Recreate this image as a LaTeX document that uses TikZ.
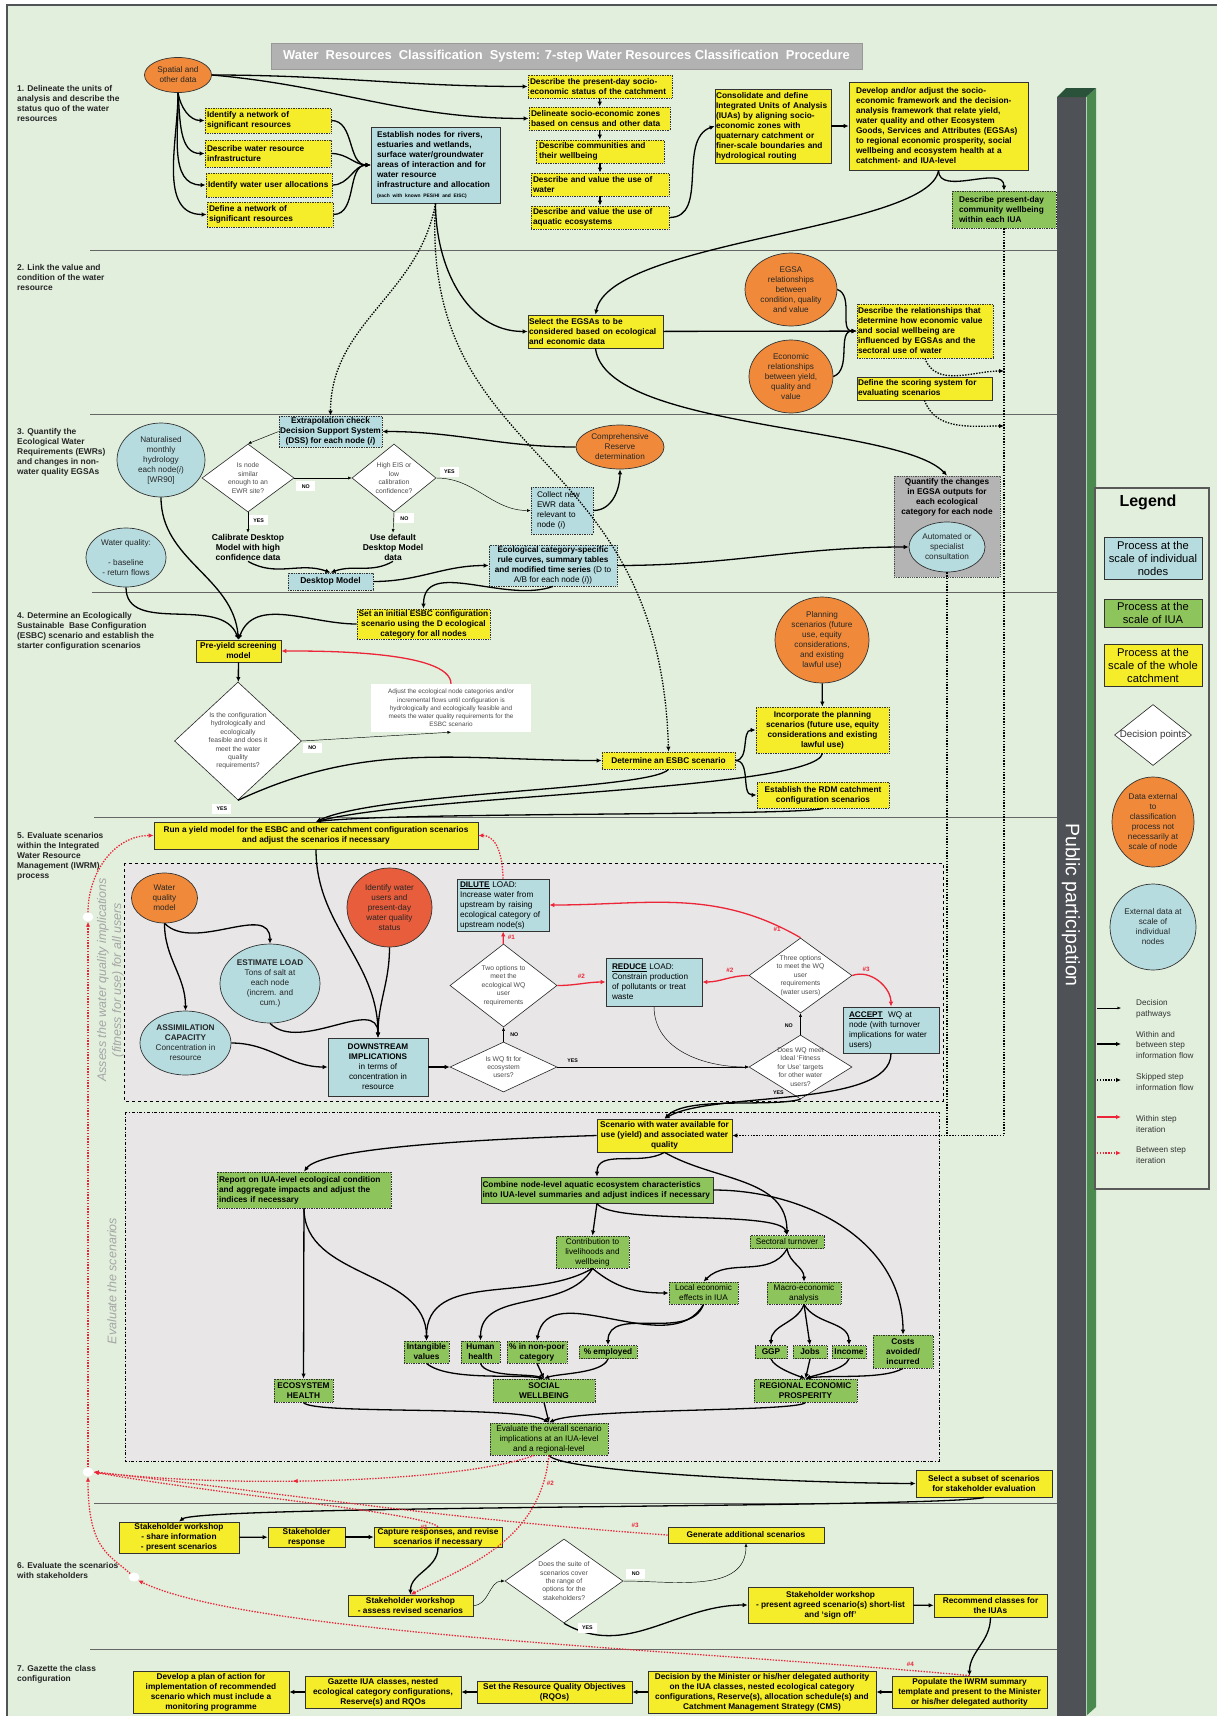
\documentclass[tikz,border=0pt]{standalone}
\usepackage{fontspec}
\setmainfont{Liberation Sans}
\usetikzlibrary{shapes.geometric,arrows.meta,positioning,decorations.markings}

\definecolor{bgc}{RGB}{226,239,221}
\definecolor{yelc}{RGB}{245,236,42}
\definecolor{bluec}{RGB}{182,220,224}
\definecolor{grnc}{RGB}{142,196,92}
\definecolor{orac}{RGB}{240,138,58}
\definecolor{redorc}{RGB}{232,93,60}
\definecolor{redc}{RGB}{236,38,56}
\definecolor{boxgray}{RGB}{232,230,230}
\definecolor{titlegray}{RGB}{178,178,178}
\definecolor{quantgray}{RGB}{180,180,180}
\definecolor{bargray}{RGB}{78,81,85}
\definecolor{bargreen}{RGB}{74,138,78}
\definecolor{bartop}{RGB}{42,82,58}
\definecolor{framec}{RGB}{80,84,86}
\definecolor{rottext}{RGB}{165,165,165}

\newcommand{\fbx}{\fontsize{8.3}{10}\selectfont\bfseries}
\newcommand{\frg}{\fontsize{8.2}{10}\selectfont}
\newcommand{\fcal}{\fontsize{8.5}{10}\selectfont\bfseries}
\newcommand{\fdm}{\fontsize{6.8}{8.4}\selectfont}
\newcommand{\fadj}{\fontsize{6.4}{8.2}\selectfont}
\newcommand{\fst}{\fontsize{8.4}{10}\selectfont\bfseries}
\newcommand{\fyn}{\fontsize{5.3}{6}\selectfont\bfseries}
\newcommand{\fhs}{\fontsize{6.3}{7}\selectfont\bfseries}
\newcommand{\flg}{\fontsize{11.2}{13}\selectfont}
\newcommand{\flk}{\fontsize{8.2}{10.5}\selectfont}

\begin{document}
\begin{tikzpicture}[x=1pt, y=-1pt,
    wh/.style 2 args={minimum width=#1, minimum height=#2},
    tw/.style={text width=#1pt, inner xsep=0pt, align=left},
    proc/.style={draw=black!80, line width=0.7pt, inner xsep=2pt, inner ysep=1pt, align=center, font=\fbx},
    ybox/.style={proc, fill=yelc},
    bbox/.style={proc, fill=bluec},
    gbox/.style={proc, fill=grnc},
    dotbd/.style={densely dotted, line width=0.8pt},
    extd/.style={ellipse, draw=black!80, line width=0.7pt, fill=orac, inner sep=0pt, align=center, font=\frg, text=black!85},
    bel/.style={extd, fill=bluec},
    dmd/.style={diamond, draw=black!85, line width=0.6pt, fill=white, inner sep=0pt},
    dtx/.style={font=\fdm, align=center, text=black!70},
    yn/.style={fill=white, font=\fyn, inner sep=1pt, minimum width=19, minimum height=10},
    hsh/.style={font=\fhs, text=redc, inner sep=1pt},
    jn/.style={ellipse, fill=white, inner sep=0pt, minimum width=11, minimum height=9},
    steplbl/.style={anchor=north west, inner sep=0pt, align=left, font=\fst, text=black!85},
    lgtx/.style={anchor=west, inner sep=0pt, align=left, font=\flk, text=black!80},
    sepline/.style={draw=black!60, line width=0.7pt},
    flow/.style={-{Latex[length=5pt,width=4.5pt]}, line width=1.3pt},
    thinarr/.style={-{Latex[length=3.5pt,width=3pt]}, line width=0.45pt},
    skipf/.style={flow, dash pattern=on 1.4pt off 1.4pt},
    iter/.style={flow, draw=redc},
    biter/.style={iter, dash pattern=on 1.4pt off 1.4pt},
    midtip/.style={postaction={decorate, decoration={markings, mark=at position #1 with {\arrow{Latex[length=5pt,width=4.5pt]}}}}},
  ]
\useasboundingbox (0,0) rectangle (1217,1716);

% background and frame
\fill[bgc] (7,5) rectangle (1217,1716);
\draw[framec, line width=1.4pt] (7,1716) -- (7,5) -- (1217,5);

% step separators
\draw[sepline] (90,250) -- (1057,250);
\draw[sepline] (90,414) -- (1057,414);
\draw[sepline] (92,592) -- (1057,592);
\draw[sepline] (94,817) -- (1057,817);
\draw[sepline] (94,1503) -- (1057,1503);
\draw[sepline] (90,1649) -- (1057,1649);

% containers of step 5
\draw[dashed, fill=boxgray, line width=0.8pt] (124,863) rectangle (943,1101);
\draw[dash dot, fill=boxgray, line width=0.8pt] (125,1112) rectangle (939,1461);
\node[rotate=90, align=center, font=\fontsize{12.5}{15}\selectfont\itshape, text=rottext] at (110.5,980) (asstxt) {Assess the water quality implications\\(fitness for use) for all users};
\node[rotate=90, font=\fontsize{12.5}{15}\selectfont\itshape, text=rottext] at (112,1281) (evtxt) {Evaluate the scenarios};

% public participation bar
\fill[bargray] (1057,97) rectangle (1086,1716);
\fill[bargreen] (1086,97) -- (1096,88) -- (1096,1707) -- (1086,1716) -- cycle;
\fill[bartop] (1057,97) -- (1066,88) -- (1096,88) -- (1086,97) -- cycle;
\draw[bargreen!40!white, line width=0.8pt] (1086.5,97) -- (1086.5,1716);
\node[rotate=-90, text=white, font=\fontsize{19.5}{22}\selectfont] at (1071,905) (pubp) {Public participation};

% title and step labels
\node[fill=titlegray, draw=black!40, line width=0.8pt, text=white, font=\fontsize{12.9}{14}\selectfont\bfseries, wh={591}{26}] at (566.5,56) (title) {Water\ \ Resources\ \ Classification\ \ System: 7-step Water Resources Classification\ \ Procedure};
\node[steplbl] at (17,85) (st1) {1. Delineate the units of\\analysis and describe the\\status quo of the water\\resources};
\node[steplbl] at (17,264) (st2) {2. Link the value and\\condition of the water\\resource};
\node[steplbl] at (17,428) (st3) {3. Quantify the\\Ecological Water\\Requirements (EWRs)\\and changes in non-\\water quality EGSAs};
\node[steplbl] at (17,612) (st4) {4. Determine an Ecologically\\Sustainable\ \ Base Configuration\\(ESBC) scenario and establish the\\starter configuration scenarios};
\node[steplbl] at (17,832) (st5) {5. Evaluate scenarios\\within the Integrated\\Water Resource\\Management (IWRM)\\process};
\node[steplbl] at (17,1562) (st6) {6. Evaluate the scenarios\\with stakeholders};
\node[steplbl] at (17,1665) (st7) {7. Gazette the class\\configuration};

% step 1
\node[extd, wh={67}{35}] at (178,75) (spat) {Spatial and\\other data};
\node[ybox, dotbd, wh={126}{25}, tw=122] at (268,120.5) (idnet) {Identify a network of\\significant resources};
\node[ybox, dotbd, wh={126}{27}, tw=122] at (268,153.5) (infra) {Describe water resource\\infrastructure};
\node[ybox, dotbd, wh={126}{24}, tw=122] at (269,185) (alloc) {Identify water user allocations};
\node[ybox, dotbd, wh={126}{25}, tw=122] at (270,214.5) (defnet) {Define a network of\\significant resources};
\node[bbox, wh={129}{76}, tw=117] at (435.5,165) (estn) {Establish nodes for rivers,\\estuaries and wetlands,\\surface water/groundwater\\areas of interaction and for\\water resource\\infrastructure and allocation\\\mbox{\fontsize{4.9}{6}\selectfont (each with known PES/HI and EISC)}};
\node[ybox, dotbd, wh={144}{23}, tw=140] at (600,86.5) (socst) {Describe the present-day socio-\\economic status of the catchment};
\node[ybox, dotbd, wh={141}{23}, tw=137] at (599.5,118.5) (zones) {Delineate socio-economic zones\\based on census and other data};
\node[ybox, dotbd, wh={128}{23}, tw=122] at (600,151.5) (commw) {Describe communities and\\their wellbeing};
\node[ybox, dotbd, wh={138}{23}, tw=134] at (600,184.5) (usew) {Describe and value the use of\\water};
\node[ybox, dotbd, wh={138}{23}, tw=134] at (600,217.5) (usea) {Describe and value the use of\\aquatic ecosystems};
\node[ybox, wh={116}{74}, tw=114] at (773,126) (iua) {Consolidate and define\\Integrated Units of Analysis\\(IUAs) by aligning socio-\\economic zones with\\quaternary catchment or\\finer-scale boundaries and\\hydrological routing};
\node[ybox, wh={179}{88}, tw=165] at (938.5,126) (dev) {Develop and/or adjust the socio-\\economic framework and the decision-\\analysis framework that relate yield,\\water quality and other Ecosystem\\Goods, Services and Attributes (EGSAs)\\to regional economic prosperity, social\\wellbeing and ecosystem health at a\\catchment- and IUA-level};
\node[gbox, dotbd, wh={104}{37}, tw=90] at (1004,209.5) (comm) {Describe present-day\\community wellbeing\\within each IUA};

% step 2
\node[ybox, wh={135}{33}, tw=133] at (595.5,331.5) (selg) {Select the EGSAs to be\\considered based on ecological\\and economic data};
\node[extd, wh={92}{73}] at (791,289.5) (egrel) {EGSA\\relationships\\between\\condition, quality\\and value};
\node[extd, wh={84}{73}] at (791,376.5) (ecrel) {Economic\\relationships\\between yield,\\quality and\\value};
\node[ybox, dotbd, wh={136}{54}, tw=134] at (925,331) (descr) {Describe the relationships that\\determine how economic value\\and social wellbeing are\\influenced by EGSAs and the\\sectoral use of water};
\node[ybox, wh={135}{23}, tw=133] at (924.5,388.5) (score) {Define the scoring system for\\evaluating scenarios};
\coordinate (pjA) at (1004,371);
\coordinate (pjB) at (1004,426);

% step 3
\node[bbox, dotbd, wh={103}{31}, inner xsep=1pt, inner ysep=0pt] at (330.5,431.5) (extra) {Extrapolation check\\Decision Support System\\(DSS) for each node (\textit{i})};
\node[bel, wh={88}{74}] at (161,460) (natur) {Naturalised\\monthly\\hydrology\\each node(\textit{i})\\{[WR90]}};
\node[dmd, wh={92}{68}, label={[dtx]center:{Is node\\similar\\enough to an\\EWR site?}}] at (248,478) (dsim) {};
\node[dmd, wh={84}{68}, label={[dtx]center:{High EIS or\\low\\calibration\\confidence?}}] at (394,478) (deis) {};
\node[font=\fcal, align=center, inner sep=1pt] at (248,547) (calib) {Calibrate Desktop\\Model with high\\confidence data};
\node[font=\fcal, align=center, inner sep=1pt] at (393,547) (usedf) {Use default\\Desktop Model\\data};
\node[bbox, dotbd, wh={62}{47}, tw=50, font=\frg] at (562,510.5) (collect) {Collect new\\EWR data\\relevant to\\node (\textit{i})};
\node[extd, wh={88}{44}] at (620,447) (cres) {Comprehensive\\Reserve\\determination};
\node[bbox, dotbd, wh={85}{17}, font=\fcal] at (330.5,581.5) (desk) {Desktop Model};
\node[bbox, dotbd, wh={128}{41}, font=\frg, inner ysep=0pt] at (553,565.5) (ecocat) {\textbf{Ecological category-specific}\\\textbf{rule curves, summary tables}\\\textbf{and modified time series} (D to\\A/B for each node (\textit{i}))};
\node[fill=quantgray, draw=black!70, densely dotted, line width=0.8pt, wh={106}{101}, label={[font=\fbx, align=center, anchor=north, inner sep=0pt, yshift=-3pt]north:{Quantify the changes\\in EGSA outputs for\\each ecological\\category for each node}}] at (947,526.5) (quant) {};
\node[bel, wh={76}{50}] at (947,547) (autom) {Automated or\\specialist\\consultation};
\node[bel, wh={80}{59}] at (126,557.5) (wqual) {Water quality:\\[10pt]- baseline\\- return flows};

% step 4
\node[ybox, dotbd, wh={133}{30}, inner ysep=0pt, inner xsep=1pt] at (423.5,624) (inesbc) {Set an initial ESBC configuration\\scenario using the D ecological\\category for all nodes};
\node[ybox, wh={85}{22}, inner ysep=0pt] at (238.5,651) (preyld) {Pre-yield screening\\model};
\node[dmd, wh={127}{118}, label={[dtx]center:{Is the configuration\\hydrologically and\\ecologically\\feasible and does it\\meet the water\\quality\\requirements?}}] at (238,741) (dconf) {};
\node[fill=white, wh={160}{48}, align=center, font=\fadj, text=black!70, inner sep=1pt] at (451,708) (adjust) {Adjust the ecological node categories and/or\\incremental flows until configuration is\\hydrologically and ecologically feasible and\\meets the water quality requirements for the\\ESBC scenario};
\node[ybox, dotbd, wh={133}{17}] at (668.5,760.5) (detesbc) {Determine an ESBC scenario};
\node[extd, wh={94}{86}] at (822,640) (plansc) {Planning\\scenarios (future\\use, equity\\considerations,\\and existing\\lawful use)};
\node[ybox, dotbd, wh={133}{46}] at (822.5,730) (incorp) {Incorporate the planning\\scenarios (future use, equity\\considerations and existing\\lawful use)};
\node[ybox, dotbd, wh={132}{26}] at (823,795) (rdm) {Establish the RDM catchment\\configuration scenarios};

% step 5: water quality
\node[ybox, wh={324}{27}] at (316,835.5) (runyld) {Run a yield model for the ESBC and other catchment configuration scenarios\\and adjust the scenarios if necessary};
\node[extd, wh={66}{50}] at (164.5,898) (wqmod) {Water\\quality\\model};
\node[extd, fill=redorc, wh={85}{79}] at (389.5,907.5) (idusr) {Identify water\\users and\\present-day\\water quality\\status};
\node[bel, wh={100}{79}] at (270,983.5) (estld) {\textbf{ESTIMATE LOAD}\\Tons of salt at\\each node\\(increm. and\\cum.)};
\node[bel, wh={91}{64}] at (185.5,1043) (assim) {\textbf{ASSIMILATION}\\\textbf{CAPACITY}\\Concentration in\\resource};
\node[bbox, wh={100}{58}, font=\frg] at (378,1067) (dstrm) {\textbf{DOWNSTREAM}\\\textbf{IMPLICATIONS}\\in terms of\\concentration in\\resource};
\node[dmd, wh={107}{50}, label={[dtx]center:{Is WQ fit for\\ecosystem\\users?}}] at (503.5,1067) (dfit) {};
\node[dmd, wh={107}{83}, label={[dtx]center:{Two options to\\meet the\\ecological WQ\\user\\requirements}}] at (503.5,985.5) (dtwo) {};
\node[bbox, wh={92}{52}, tw=86, font=\frg] at (503,905) (dilute) {\underline{\textbf{DILUTE}} LOAD:\\Increase water from\\upstream by raising\\ecological category of\\upstream node(s)};
\node[bbox, wh={96}{48}, tw=84, font=\frg] at (654,982) (reduce) {\underline{\textbf{REDUCE}} LOAD:\\Constrain production\\of pollutants or treat\\waste};
\node[dmd, wh={103}{75}, label={[dtx]center:{Three options\\to meet the WQ\\user\\requirements\\(water users)}}] at (800.5,975.5) (dthree) {};
\node[dmd, wh={103}{64}, label={[dtx]center:{Does WQ meet\\Ideal `Fitness\\for Use' targets\\for other water\\users?}}] at (800.5,1067) (dmeet) {};
\node[bbox, wh={96}{46}, tw=84, font=\frg] at (891,1030) (accept) {\underline{\textbf{ACCEPT}}\ \ WQ at\\node (with turnover\\implications for water\\users)};

% step 5: evaluation
\node[ybox, wh={135}{33}] at (664.5,1135.5) (scenw) {Scenario with water available for\\use (yield) and associated water\\quality};
\node[gbox, dotbd, wh={174}{36}, tw=170] at (304,1190) (rpiua) {Report on IUA-level ecological condition\\and aggregate impacts and adjust the\\indices if necessary};
\node[gbox, wh={232}{26}, tw=229] at (597,1190) (combn) {Combine node-level aquatic ecosystem characteristics\\into IUA-level summaries and adjust indices if necessary};
\node[gbox, dotbd, wh={73}{32}, font=\frg] at (592.5,1252) (contr) {Contribution to\\livelihoods and\\wellbeing};
\node[gbox, dotbd, wh={74}{13}, font=\frg, inner ysep=0pt] at (787,1242) (sectr) {Sectoral turnover};
\node[gbox, dotbd, wh={69}{22}, font=\frg] at (703.5,1293) (loceco) {Local economic\\effects in IUA};
\node[gbox, dotbd, wh={74}{22}, font=\frg] at (804,1293) (macro) {Macro-economic\\analysis};
\node[gbox, dotbd, wh={45}{22}, inner xsep=1pt] at (426.5,1352) (intang) {Intangible\\values};
\node[gbox, dotbd, wh={39}{22}, inner xsep=1pt] at (480.5,1352) (humh) {Human\\health};
\node[gbox, dotbd, wh={60}{22}, inner xsep=1pt] at (537,1352) (npoor) {\% in non-poor\\category};
\node[gbox, dotbd, wh={58}{13}, inner ysep=0pt] at (608,1352) (emplo) {\% employed};
\node[gbox, dotbd, wh={32}{13}, inner ysep=0pt] at (771,1352) (ggp) {GGP};
\node[gbox, dotbd, wh={34}{13}, inner ysep=0pt] at (810,1352) (jobs) {Jobs};
\node[gbox, dotbd, wh={34}{13}, inner ysep=0pt] at (849,1352) (incom) {Income};
\node[gbox, dotbd, wh={60}{33}] at (903,1351.5) (costs) {Costs\\avoided/\\incurred};
\node[gbox, dotbd, wh={59}{23}] at (303.5,1390.5) (ecoh) {ECOSYSTEM\\HEALTH};
\node[gbox, dotbd, wh={102}{23}] at (544,1390.5) (socw) {SOCIAL\\WELLBEING};
\node[gbox, dotbd, wh={103}{23}] at (805.5,1390.5) (regp) {REGIONAL ECONOMIC\\PROSPERITY};
\node[gbox, dotbd, wh={118}{32}, font=\frg] at (549,1439) (evall) {Evaluate the overall scenario\\implications at an IUA-level\\and a regional-level};
\node[ybox, wh={136}{27}] at (984,1483.5) (subset) {Select a subset of scenarios\\for stakeholder evaluation};

% step 6
\node[ybox, wh={120}{31}] at (179,1537.5) (wshare) {Stakeholder workshop\\- share information\\- present scenarios};
\node[ybox, wh={77}{20}, inner ysep=0pt] at (306.5,1537) (sresp) {Stakeholder\\response};
\node[ybox, wh={128}{20}, inner ysep=0pt] at (438,1537) (captr) {Capture responses, and revise\\scenarios if necessary};
\node[ybox, wh={156}{16}] at (746,1535) (genad) {Generate additional scenarios};
\node[ybox, wh={125}{21}, inner ysep=0pt] at (410.5,1605.5) (wassess) {Stakeholder workshop\\- assess revised scenarios};
\node[dmd, wh={118}{84}, label={[dtx]center:{Does the suite of\\scenarios cover\\the range of\\options for the\\stakeholders?}}] at (564,1581) (dsuite) {};
\node[ybox, wh={165}{36}] at (830.5,1605) (wagree) {Stakeholder workshop\\- present agreed scenario(s) short-list\\and `sign off'};
\node[ybox, wh={113}{23}] at (990.5,1605.5) (recom) {Recommend classes for\\the IUAs};

% step 7
\node[ybox, wh={155}{32}] at (969.5,1692) (popul) {Populate the IWRM summary\\template and present to the Minister\\or his/her delegated authority};
\node[ybox, wh={228}{42}] at (762,1692) (decis) {Decision by the Minister or his/her delegated authority\\on the IUA classes, nested ecological category\\configurations, Reserve(s), allocation schedule(s) and\\Catchment Management Strategy (CMS)};
\node[ybox, wh={155}{22}] at (554.5,1692) (rqos) {Set the Resource Quality Objectives\\(RQOs)};
\node[ybox, wh={156}{32}] at (383,1692) (gazet) {Gazette IUA classes, nested\\ecological category configurations,\\Reserve(s) and RQOs};
\node[ybox, wh={156}{42}] at (211,1692) (actpl) {Develop a plan of action for\\implementation of recommended\\scenario which must include a\\monitoring programme};

% junctions of the iteration loops
\node[jn] at (88,917) (jA) {};
\node[jn] at (88,1472) (jB) {};
\node[jn] at (134,1577) (jC) {};

% connectors
\path
  (spat.south) edge[flow, out=-80, in=180] (idnet.west)
  (spat.south) edge[flow, out=-85, in=180] (infra.west)
  (spat.south) edge[flow, out=-88, in=180] (alloc.west)
  (spat.south) edge[flow, out=-90, in=180] (defnet.west)
  (spat.east) edge[flow, out=0, in=180] (socst.west)
  (spat.east) edge[flow, out=-5, in=180] (zones.west)
  (idnet.east) edge[flow, out=0, in=180] (estn.west)
  (infra.east) edge[flow, out=0, in=180] (estn.west)
  (alloc.east) edge[flow, out=0, in=180] (estn.west)
  (defnet.east) edge[flow, out=0, in=180] (estn.west)
  (socst) edge[flow] (zones)
  (zones) edge[flow] (commw)
  (commw) edge[flow] (usew)
  (usew) edge[flow] (usea)
  (usea.east) edge[flow, out=0, in=-160] (iua.west)
  (iua) edge[flow] (dev)
  (dev.south) edge[flow, out=-90, in=90] (comm.north)
  (estn.south) edge[flow, out=-90, in=180] (selg.west)
  (estn.south) edge[skipf, out=-100, in=90] (extra.north)
  (selg) edge[flow] (descr)
  (egrel.east) edge[flow, out=-20, in=180] (descr.west)
  (ecrel.east) edge[flow, out=20, in=180] (descr.west)
  (descr.south) edge[skipf, out=-70, in=180] (pjA)
  (score.south) edge[skipf, out=-70, in=180] (pjB)
  (cres.west) edge[flow, out=180, in=0] (extra.east)
  (extra.west) edge[thinarr] (dsim.north)
  (dsim.east) edge[thinarr] node[yn, pos=.2, below=3pt] {NO} (deis.west)
  (dsim.south) edge[thinarr] node[yn, pos=.4, right=1pt] {YES} (calib.north)
  (deis.south) edge[thinarr] node[yn, pos=.3, right=1pt] {NO} (usedf.north)
  (deis.east) edge[thinarr, out=0, in=180] node[yn, pos=.12, above=2pt] {YES} (collect.west)
  (collect.east) edge[flow, out=0, in=-90] (cres.south)
  (calib.south) edge[flow, out=-30, in=160] (desk.north)
  (usedf.south) edge[flow, out=-150, in=20] (desk.north)
  (desk.east) edge[flow, out=0, in=180] (ecocat.west)
  (ecocat.east) edge[flow, out=0, in=180] (autom.west)
  (natur.south) edge[flow, out=-90, in=95] (preyld.north)
  (wqual.south) edge[flow, out=-90, in=110] (preyld.north)
  (ecocat.south) edge[flow, out=-160, in=90] (inesbc.north)
  (inesbc.west) edge[flow, out=180, in=70] (preyld.north)
  (preyld) edge[flow] (dconf)
  (dconf.east) edge[thinarr] node[yn, pos=.07, below=2pt] {NO} (adjust.south)
  (adjust.north) edge[iter, out=90, in=0, looseness=.5] (preyld.east)
  (dconf.south) edge[flow, out=25, in=180] node[yn, pos=0, below left=3pt and 6pt] {YES} (detesbc.west)
  (detesbc.east) edge[flow, out=0, in=180] (incorp.west)
  (detesbc.east) edge[flow, out=0, in=180] (rdm.west)
  (plansc) edge[flow] (incorp)
  (runyld.south) edge[flow, out=-90, in=90] (dstrm.north)
  (dilute.north) edge[biter, out=90, in=0] (runyld.east)
  (wqmod.south) edge[flow, out=-90, in=90] (assim.north)
  (wqmod.south) edge[flow, out=-45, in=90] (estld.north)
  (estld.south) edge[flow, out=-45, in=90] (dstrm.north)
  (idusr.south) edge[flow, out=-90, in=90] (dstrm.north)
  (assim.east) edge[flow, out=0, in=180] (dstrm.west)
  (dstrm) edge[flow] (dfit)
  (dfit) edge[thinarr] node[yn, fill=none, pos=.5, right=1pt] {NO} (dtwo)
  (dtwo) edge[iter] node[hsh, pos=.5, right=3pt] {\#1} (dilute)
  (dtwo.east) edge[iter, out=0, in=180] node[hsh, pos=.5, above=4pt] {\#2} (reduce.west)
  (dfit) edge[thinarr] node[yn, fill=none, pos=.08, above=1pt] {YES} (dmeet)
  (dmeet) edge[thinarr] node[yn, fill=none, pos=.4, left=2pt] {NO} (dthree)
  (dthree.west) edge[iter, out=180, in=0] node[hsh, pos=.4, above=4pt] {\#2} (reduce.east)
  (dthree.north) edge[iter, out=150, in=0] node[hsh, pos=.06, left=3pt] {\#1} (dilute.east)
  (dthree.east) edge[iter, out=20, in=90] node[hsh, pos=.25, above=2pt] {\#3} (accept.north)
  (reduce.south) edge[thinarr, out=-90, in=180] (dmeet.west)
  (dmeet.south) edge[flow, out=-165, in=45, looseness=.6] node[yn, fill=none, pos=0, above left=1pt and 12pt] {YES} (scenw.north)
  (accept.south) edge[flow, out=-90, in=30, looseness=.6] (scenw.north)
  (scenw.south) edge[flow, out=-150, in=90] (combn.north)
  (scenw.south) edge[flow, out=-30, in=90] (sectr.north)
  (rpiua) edge[flow] (ecoh)
  (rpiua.south) edge[flow, out=-90, in=90] (intang.north)
  (combn.south) edge[flow] (contr.north)
  (combn.east) edge[flow, out=0, in=90] (costs.north)
  (contr.south) edge[flow, out=-150, in=90] (intang.north)
  (contr.south) edge[flow, out=-120, in=90] (humh.north)
  (contr.south) edge[flow, out=-40, in=180] (loceco.west)
  (sectr.south) edge[flow, out=-120, in=45] (loceco.north)
  (sectr.south) edge[flow, out=-80, in=90] (macro.north)
  (loceco.south) edge[flow, out=-120, in=80] (npoor.north)
  (loceco.south) edge[flow, out=-110, in=90] (emplo.north)
  (macro.south) edge[flow, out=-110, in=90] (ggp.north)
  (macro.south) edge[flow] (jobs.north)
  (macro.south) edge[flow, out=-60, in=90] (incom.north)
  (intang.south) edge[flow, out=-40, in=170, looseness=.6] (socw.north)
  (humh.south) edge[flow, out=-70, in=160, looseness=.6] (socw.north)
  (npoor.south) edge[flow] (socw.north)
  (emplo.south) edge[flow, out=-110, in=20, looseness=.6] (socw.north)
  (ggp.south) edge[flow, out=-70, in=160, looseness=.6] (regp.north)
  (jobs.south) edge[flow] (regp.north)
  (incom.south) edge[flow, out=-110, in=20, looseness=.6] (regp.north)
  (costs.south) edge[flow, out=-150, in=10, looseness=.6] (regp.north)
  (socw.south) edge[flow] (evall.north)
  (wshare) edge[flow] (sresp)
  (sresp) edge[flow] (captr)
  (captr.south) edge[flow, out=-90, in=90] (wassess.north)
  (wassess.east) edge[thinarr, out=0, in=180] (dsuite.west)
  (dsuite.east) edge[thinarr, out=0, in=-90] node[yn, pos=.08, above=2pt] {NO} (genad.south)
  (dsuite.south) edge[flow, out=-30, in=180] node[yn, pos=.05, right=4pt] {YES} (wagree.west)
  (wagree) edge[flow] (recom)
  (recom.south) edge[flow, out=-90, in=90] (popul.north)
  (popul) edge[flow] (decis)
  (decis) edge[flow] (rqos)
  (rqos) edge[flow] (gazet)
  (gazet) edge[flow] (actpl)
  (jB) edge[biter] (jA)
  (jA.north) edge[biter, out=90, in=180] (runyld.west)
  ;

% long curved connectors
\draw[flow] (dev.south) .. controls (930,230) and (610,240) .. (selg.north);
\draw[flow] (selg.south) .. controls (605,430) and (900,425) .. (quant.north);
\draw[skipf] (estn.south) .. controls (420,470) and (660,440) .. (detesbc.north);
\draw[skipf] (comm.south) |- (scenw.east);
\draw[skipf, -] (autom.south) -- (autom.south |- scenw.east);
\draw[flow] (detesbc.south) .. controls (650,790) and (380,792) .. (runyld.north);
\draw[flow] (incorp.south) .. controls (815,790) and (420,795) .. (runyld.north);
\draw[flow] (rdm.south) .. controls (800,816) and (400,812) .. (runyld.north);
\draw[flow] (scenw.west) .. controls (450,1140) and (320,1150) .. (rpiua.north);
\draw[flow] (combn.south) .. controls (610,1225) and (780,1210) .. (sectr.north);
\draw[flow] (ecoh.south) .. controls (310,1415) and (520,1405) .. (evall.north);
\draw[flow] (regp.south) .. controls (800,1412) and (580,1408) .. (evall.north);
\draw[flow] (evall.south) .. controls (560,1472) and (800,1483) .. (subset.west);
\draw[flow] (subset.south) .. controls (950,1508) and (200,1505) .. (wshare.north);

% between step iterations
\draw[biter, midtip=.55] ([xshift=-15pt]evall.south) .. controls (470,1480) and (250,1490) .. (jB.east);
\draw[biter] (captr.north) .. controls (420,1512) and (220,1495) .. node[hsh, pos=.12, below=2pt] {\#1} (jB.east);
\draw[biter] (genad.west) .. controls (450,1520) and (260,1490) .. node[hsh, pos=.05, above=3pt] {\#3} (jB.east);
\draw[biter] (evall.south) .. controls (540,1540) and (470,1565) .. node[hsh, pos=.12, right=2pt] {\#2} (wassess.north);
\draw[biter] (popul.north) .. controls (700,1650) and (250,1635) .. node[hsh, pos=.07, above=2pt] {\#4} (jC.south east);
\draw[biter] (jC) .. controls (110,1555) and (88,1550) .. (jB.south);

% legend
\draw[draw=black!65, line width=1.2pt, fill=bgc] (1095,488) rectangle (1209,1189);
\node[font=\fontsize{16}{18}\selectfont\bfseries] at (1148,502) (lgtitle) {Legend};
\node[bbox, font=\flg, wh={98}{42}, line width=1pt] at (1153,558) (lgblue) {Process at the\\scale of individual\\nodes};
\node[gbox, font=\flg, wh={98}{28}, line width=1pt] at (1153,613) (lggreen) {Process at the\\scale of IUA};
\node[ybox, font=\flg, wh={98}{42}, line width=1pt] at (1153,665) (lgyel) {Process at the\\scale of the whole\\catchment};
\node[dmd, wh={77}{61}, label={[font=\fontsize{9.8}{11}\selectfont, text=black!80]center:Decision points}] at (1153,735) (lgdec) {};
\node[extd, wh={82}{90}] at (1153,822) (lgext) {Data external\\to\\classification\\process not\\necessarily at\\scale of node};
\node[bel, wh={86}{86}] at (1153,927) (lgnode) {External data at\\scale of\\individual\\nodes};
\coordinate (lka) at (1097,1008); \coordinate (lkb) at (1121,1008);
\coordinate (lkc) at (1097,1044); \coordinate (lkd) at (1121,1044);
\coordinate (lke) at (1097,1080); \coordinate (lkf) at (1121,1080);
\coordinate (lkg) at (1097,1117); \coordinate (lkh) at (1121,1117);
\coordinate (lki) at (1097,1153); \coordinate (lkj) at (1121,1153);
\draw[thinarr] (lka) -- (lkb);
\draw[flow] (lkc) -- (lkd);
\draw[skipf] (lke) -- (lkf);
\draw[iter] (lkg) -- (lkh);
\draw[biter] (lki) -- (lkj);
\node[lgtx] at (1136,1009) (lt1) {Decision\\pathways};
\node[lgtx] at (1136,1045) (lt2) {Within and\\between step\\information flow};
\node[lgtx] at (1136,1082) (lt3) {Skipped step\\information flow};
\node[lgtx] at (1136,1124) (lt4) {Within step\\iteration};
\node[lgtx] at (1136,1155) (lt5) {Between step\\iteration};
\end{tikzpicture}
\end{document}
